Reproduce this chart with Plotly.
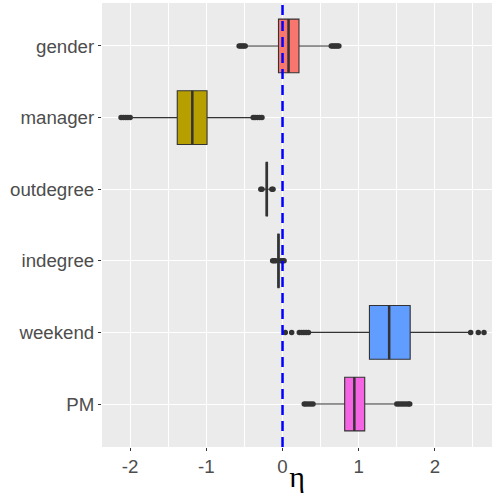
import plotly.graph_objects as go

categories = ["gender", "manager", "outdegree", "indegree", "weekend", "PM"]
colors = ["#F8766D", "#B79F00", "#00BA38", "#00BFC4", "#619CFF", "#F564E3"]
q1 = [-0.053, -1.382, -0.215, -0.060, 1.141, 0.816]
median = [0.079, -1.184, -0.206, -0.053, 1.400, 0.943]
q3 = [0.216, -0.991, -0.198, -0.047, 1.676, 1.079]
lowerfence = [-0.47, -1.97, -0.26, -0.08, 0.36, 0.42]
upperfence = [0.62, -0.41, -0.15, -0.03, 2.44, 1.47]
outliers = [
    [-0.57, -0.55, -0.53, -0.51, -0.49, 0.64, 0.66, 0.68, 0.70, 0.72, 0.74],
    [-2.12, -2.09, -2.06, -2.03, -2.00, -0.385, -0.36, -0.33, -0.30, -0.27],
    [-0.285, -0.27, -0.14, -0.125],
    [-0.13, -0.11, -0.09, -0.02, 0.0, 0.02],
    [0.036, 0.12, 0.22, 0.25, 0.28, 0.31, 0.34, 2.47, 2.57, 2.645],
    [0.285, 0.31, 0.34, 0.37, 0.40, 1.50, 1.53, 1.56, 1.59, 1.62, 1.65, 1.67],
]
x_ticks = [-2, -1, 0, 1, 2]
ref_value = 0

n = len(categories)
pos = [n - 1 - i for i in range(n)]  # gender at top

fig = go.Figure()
for i, cat in enumerate(categories):
    fig.add_trace(go.Box(
        y=[pos[i]], q1=[q1[i]], median=[median[i]], q3=[q3[i]],
        lowerfence=[lowerfence[i]], upperfence=[upperfence[i]],
        orientation="h", width=0.75, fillcolor=colors[i],
        line=dict(color="#333333", width=1.1), boxpoints=False,
        whiskerwidth=0, showlegend=False, hoverinfo="skip",
    ))
    fig.add_trace(go.Scatter(
        x=[median[i], median[i]], y=[pos[i] - 0.375, pos[i] + 0.375],
        mode="lines", line=dict(color="#333333", width=2.5),
        showlegend=False, hoverinfo="skip",
    ))
    fig.add_trace(go.Scatter(
        x=outliers[i], y=[pos[i]] * len(outliers[i]), mode="markers",
        marker=dict(color="#333333", size=5.5),
        showlegend=False, hoverinfo="skip",
    ))

fig.add_shape(type="line", xref="x", yref="paper", x0=ref_value, x1=ref_value,
              y0=0, y1=1, line=dict(color="#0000FF", width=2.5, dash="10px,6px"))

fig.update_layout(
    width=492, height=493,
    margin=dict(l=102, r=0, t=3, b=46),
    paper_bgcolor="white", plot_bgcolor="#EBEBEB",
    font=dict(family="Liberation Sans, Arial, sans-serif", color="#4D4D4D", size=18.7),
)
fig.update_xaxes(
    range=[-2.37, 2.75], tickvals=x_ticks, ticktext=[str(t) for t in x_ticks],
    showgrid=True, gridcolor="white", gridwidth=1.1, zeroline=False,
    ticks="outside", ticklen=3, tickcolor="#333333", tickwidth=1,
    tickfont=dict(size=18.7, color="#4D4D4D"),
    minor=dict(dtick=0.5, tick0=0, showgrid=True, gridcolor="white", gridwidth=0.55),
    title=dict(text="η", font=dict(family="Liberation Serif, serif", size=30, color="black"), standoff=0),
    showline=False, automargin=False,
)
fig.update_yaxes(
    range=[-0.6, n - 1 + 0.6], tickvals=pos, ticktext=categories,
    showgrid=True, gridcolor="white", gridwidth=1.1, zeroline=False,
    ticks="outside", ticklen=3, tickcolor="#333333", tickwidth=1,
    tickfont=dict(size=18.7, color="#4D4D4D"), showline=False, automargin=False,
)

fig.write_html("out.html")
